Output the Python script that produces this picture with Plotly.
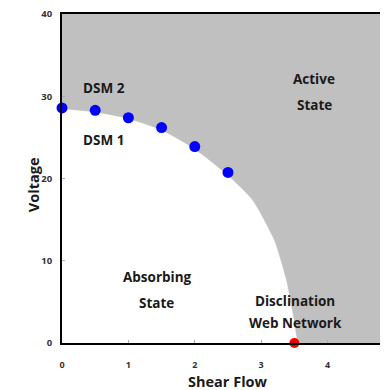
import plotly.graph_objects as go

# Phase boundary
boundary_x = [0, 0.5, 1, 1.5, 2, 2.5, 2.87, 3.2, 3.38, 3.5, 3.58]
boundary_y = [28.5, 28.1, 27.3, 25.9, 23.6, 20.4, 17.4, 12.5, 7.7, 2.8, 0]

# Measured points
dsm_x = [0, 0.5, 1, 1.5, 2, 2.5]
dsm_y = [28.6, 28.3, 27.4, 26.2, 23.9, 20.75]
dwn_x = [3.5]
dwn_y = [0]

x_ticks = [0, 1, 2, 3, 4, 5]
y_ticks = [0, 10, 20, 30, 40]
x_max, y_max = 5, 40

# Region labels (one per text line)
label_text = ["DSM 2", "DSM 1", "Active", "State", "Absorbing", "State",
              "Disclination", "Web Network"]
label_x = [0.64, 0.625, 3.80, 3.80, 1.44, 1.43, 3.51, 3.51]
label_y = [31.0, 24.7, 32.1, 28.9, 8.0, 4.85, 5.1, 2.45]

FONT = "Open Sans"
gray = "#c0c0c0"

fig = go.Figure()
poly_x = boundary_x + [x_max, x_max, 0]
poly_y = boundary_y + [0, y_max + 1, y_max + 1]
fig.add_trace(go.Scatter(x=poly_x, y=poly_y, fill="toself", fillcolor=gray,
                         line=dict(color=gray, width=0.5, shape="spline", smoothing=0.6),
                         mode="lines", hoverinfo="skip", showlegend=False))
fig.add_trace(go.Scatter(x=dsm_x, y=dsm_y, mode="markers",
                         marker=dict(color="#0000ff", size=11), showlegend=False,
                         cliponaxis=False))
fig.add_trace(go.Scatter(x=dwn_x, y=dwn_y, mode="markers",
                         marker=dict(color="#ee0000", size=10), showlegend=False,
                         cliponaxis=False))

for txt, x, y in zip(label_text, label_x, label_y):
    fig.add_annotation(x=x, y=y, text=txt, showarrow=False,
                       font=dict(family=FONT, size=13.5, color="#1a1a1a", weight="bold"),
                       align="center")

fig.add_annotation(xref="paper", yref="paper", x=0.51, y=-0.083, yanchor="top",
                   text="Shear Flow", showarrow=False,
                   font=dict(family=FONT, size=14.5, color="#1a1a1a", weight="bold"))
fig.add_annotation(xref="paper", yref="paper", x=-0.124, y=0.48, textangle=-90,
                   text="Voltage", showarrow=False,
                   font=dict(family=FONT, size=14.5, color="#1a1a1a", weight="bold"))

fig.update_layout(
    width=380, height=382,
    margin=dict(l=54, r=0, t=6, b=47),
    plot_bgcolor="white", paper_bgcolor="white",
    xaxis=dict(range=[0, 4.91], tickvals=x_ticks, showgrid=False, zeroline=False,
               showline=True, linecolor="black", linewidth=2, mirror=True,
               ticks="inside", ticklen=3, tickcolor="#aaa",
               ticklabelstandoff=12,
               tickfont=dict(family=FONT, size=9, color="#333", weight="bold")),
    yaxis=dict(range=[0, y_max + 0.02], tickvals=y_ticks, showgrid=False, zeroline=False,
               showline=True, linecolor="black", linewidth=2,
               ticks="inside", ticklen=3, tickcolor="#aaa",
               ticklabelstandoff=6, ticklabeloverflow="allow",
               tickfont=dict(family=FONT, size=9.5, color="#333", weight="bold")),
)

fig.write_html("out.html")
